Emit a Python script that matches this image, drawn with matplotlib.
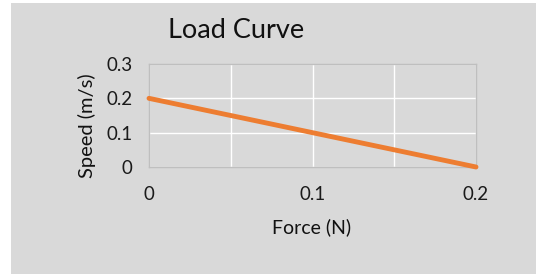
import matplotlib.pyplot as plt
from matplotlib.patches import Rectangle
from matplotlib.ticker import MultipleLocator

# data
force = [0, 0.2]
speed = [0.2, 0]

plt.rcParams['font.family'] = ['Lato', 'DejaVu Sans']

bg = '#d9d9d9'
fig = plt.figure(figsize=(5.36, 2.74), dpi=100, facecolor='white')
fig.patches.append(Rectangle((11 / 536, 0), 1, 1 - 3 / 274, transform=fig.transFigure,
                             facecolor=bg, edgecolor='none', zorder=-10))

ax = fig.add_axes([149 / 536, 1 - 167 / 274, 327 / 536, 103 / 274])
ax.set_facecolor(bg)
ax.plot(force, speed, color='#ed7d31', lw=3.5, solid_capstyle='round', zorder=3, clip_on=False)

ax.set_xlim(0, 0.2)
ax.set_ylim(0, 0.3)
ax.xaxis.set_minor_locator(MultipleLocator(0.05))
ax.set_xticks([0, 0.1, 0.2])
ax.set_yticks([0, 0.1, 0.2, 0.3])
ax.set_xticklabels(['0', '0.1', '0.2'])
ax.set_yticklabels(['0', '0.1', '0.2', '0.3'])
ax.grid(True, which='both', color='white', lw=1)
ax.tick_params(which='both', length=0, labelsize=13.5, colors='#1a1a1a')
ax.tick_params(axis='x', pad=14)
ax.tick_params(axis='y', pad=12)
for s in ax.spines.values():
    s.set_color('#bfbfbf')
    s.set_linewidth(1)

fig.text(236 / 536, 1 - 30 / 274, 'Load Curve', ha='center', va='center', fontsize=19.5, color='#111111')
fig.text(312 / 536, 1 - 227 / 274, 'Force (N)', ha='center', va='center', fontsize=14, color='#111111')
fig.text(87 / 536, 1 - 126 / 274, 'Speed (m/s)', ha='center', va='center', rotation=90,
         fontsize=14.5, color='#111111')

fig.savefig('out.png', dpi=100)
